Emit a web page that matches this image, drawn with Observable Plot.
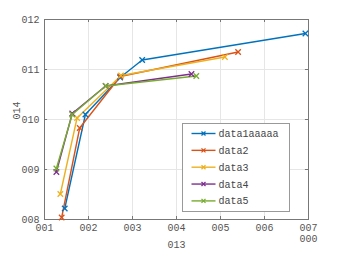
<!DOCTYPE html>
<html><head><meta charset="utf-8">
<script src="https://cdn.jsdelivr.net/npm/d3@7"></script>
<script src="https://cdn.jsdelivr.net/npm/@observablehq/plot@0.6"></script>
<style>
body{margin:0;background:#fff;}
#chart svg{font-family:"Liberation Mono",monospace;overflow:visible;}
</style>
</head><body><div id="chart"></div>
<script>
const seriesNames = ["data1aaaaa","data2","data3","data4","data5"];
const seriesColors = ["#0072BD","#D95319","#EDB120","#7E2F8E","#77AC30"];
const xData1 = [1.46,1.93,2.72,3.22,6.93];
const yData1 = [8.22,10.10,10.84,11.19,11.72];
const xData2 = [1.39,1.80,2.72,5.40];
const yData2 = [8.04,9.83,10.86,11.35];
const xData3 = [1.36,1.74,2.74,5.10];
const yData3 = [8.51,10.03,10.88,11.25];
const xData4 = [1.27,1.63,2.39,4.34];
const yData4 = [8.95,10.12,10.67,10.91];
const xData5 = [1.27,1.63,2.39,4.45];
const yData5 = [9.02,10.10,10.67,10.87];
const xTicks = [1,2,3,4,5,6,7];
const xTickLabels = ["001","002","003","004","005","006","007"];
const yTicks = [8,9,10,11,12];
const yTickLabels = ["008","009","010","011","012"];
const xLabel = "013";
const yLabel = "014";
const xExponent = "000";

const xs = [xData1,xData2,xData3,xData4,xData5];
const ys = [yData1,yData2,yData3,yData4,yData5];
const rows = [];
xs.forEach((xv,s)=>xv.forEach((x,i)=>rows.push({series:seriesNames[s], x, y: ys[s][i]})));

const xDom=[1,7], yDom=[8,12];
const axisColor="#777";
const textColor="#555";
const plot = Plot.plot({
  width:341, height:256,
  marginLeft:44, marginRight:33, marginTop:19, marginBottom:37,
  style:{fontFamily:"Liberation Mono, monospace", fontSize:"10px", background:"#fff"},
  x:{domain:xDom}, y:{domain:yDom},
  color:{domain:seriesNames, range:seriesColors},
  marks:[
    Plot.gridX(xTicks,{stroke:"#e6e6e6", strokeOpacity:1}),
    Plot.gridY(yTicks,{stroke:"#e6e6e6", strokeOpacity:1}),
    Plot.ruleX(xTicks,{x:d=>d, y1:()=>yDom[0], y2:()=>yDom[0]+0.06, stroke:axisColor}),
    Plot.ruleX(xTicks,{x:d=>d, y1:()=>yDom[1]-0.06, y2:()=>yDom[1], stroke:axisColor}),
    Plot.ruleY(yTicks,{y:d=>d, x1:()=>xDom[0], x2:()=>xDom[0]+0.07, stroke:axisColor}),
    Plot.ruleY(yTicks,{y:d=>d, x1:()=>xDom[1]-0.07, x2:()=>xDom[1], stroke:axisColor}),
    Plot.frame({stroke:axisColor}),
    Plot.axisX({ticks:xTicks, tickFormat:(d)=>xTickLabels[xTicks.indexOf(d)], tickSize:0, tickPadding:4, label:null, fill:textColor, fontSize:10}),
    Plot.axisY({ticks:yTicks, tickFormat:(d)=>yTickLabels[yTicks.indexOf(d)], tickSize:0, tickPadding:5, label:null, fill:textColor, fontSize:10}),
    Plot.text([xLabel],{text:d=>d, frameAnchor:"bottom", dy:28, fill:textColor, fontSize:10}),
    Plot.text([xExponent],{text:d=>d, x:()=>xDom[1], frameAnchor:"bottom", dy:22.5, fill:textColor, fontSize:10}),
    Plot.text([yLabel],{text:d=>d, frameAnchor:"left", dx:-28, rotate:-90, fill:textColor, fontSize:10}),
    Plot.line(rows,{x:"x", y:"y", z:"series", stroke:"series", strokeWidth:1.4}),
    Plot.dot(rows,{x:"x", y:"y", stroke:"series", symbol:"times", r:2.6, strokeWidth:1.3})
  ]
});
document.getElementById("chart").appendChild(plot);

// legend box (pixel layout)
const svg = d3.select(plot);
const lg = svg.append("g").attr("text-anchor","start");
const lx=182.5, ly=123.5, lw=107, lh=88;
lg.append("rect").attr("x",lx).attr("y",ly).attr("width",lw).attr("height",lh)
  .attr("fill","#fff").attr("stroke","#999");
seriesNames.forEach((name,i)=>{
  const yy = 133.5 + i*16.85;
  lg.append("line").attr("x1",191.5).attr("x2",215.5).attr("y1",yy).attr("y2",yy)
    .attr("stroke",seriesColors[i]).attr("stroke-width",1.4);
  const mx=203.5, s=2.0;
  lg.append("path").attr("d",`M${mx-s},${yy-s}L${mx+s},${yy+s}M${mx-s},${yy+s}L${mx+s},${yy-s}`)
    .attr("stroke",seriesColors[i]).attr("stroke-width",1.3);
  lg.append("text").attr("x",218.5).attr("y",yy).attr("dy","0.35em").attr("text-anchor","start")
    .attr("font-size",10).attr("fill","#444").attr("font-family","Liberation Mono, monospace").text(name);
});
</script>
</body></html>
